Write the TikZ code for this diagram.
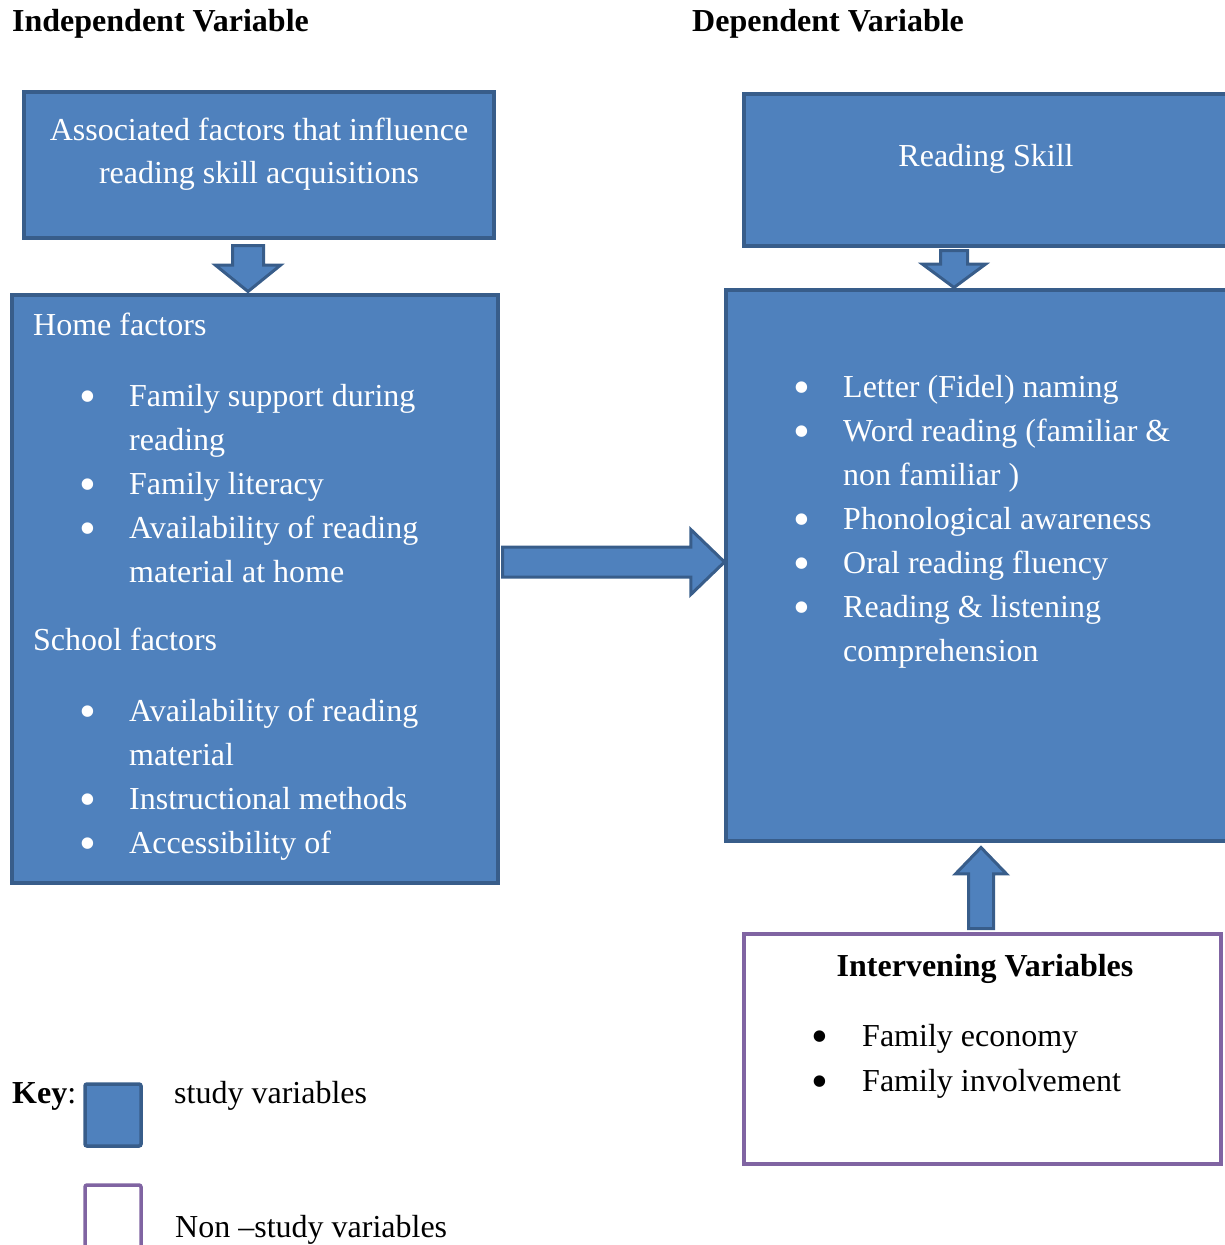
\documentclass[tikz,border=0pt]{standalone}
\usepackage{fontspec}
\setmainfont{Liberation Serif}
\usetikzlibrary{shapes.arrows,positioning}
\definecolor{varblue}{HTML}{4F81BD}
\definecolor{varedge}{HTML}{385D8A}
\definecolor{nonstudy}{HTML}{8064A2}
\newcommand{\bigtext}{\fontsize{32}{44}\selectfont}
\newcommand{\bpt}{\hspace*{-4pt}\smash{\raisebox{-6.5pt}{\scalebox{1.5}{\textbullet}}}}
\tikzset{
  studybox/.style={draw=varedge, fill=varblue, line width=3.5pt, inner sep=0pt},
  otherbox/.style={draw=nonstudy, fill=white, line width=3.5pt, inner sep=0pt},
  fatarrow/.style={single arrow, draw=varedge, fill=varblue, line width=3pt, inner xsep=0pt, minimum width=1pt, anchor=tail},
  txt/.style={inner sep=0pt, anchor=base west, font=\bigtext},
  boxtxt/.style={txt, text=white}
}

\begin{document}
\begin{tikzpicture}[x=1pt, y=-1pt]
  \useasboundingbox (0,0) rectangle (1225,1245);
  % headings
  \node[txt] (indep) at (12,31) {\textbf{Independent Variable}};
  \node[txt] (dep) at (692,31) {\textbf{Dependent Variable}};
  % boxes
  \node[studybox, minimum width=470pt, minimum height=146pt] (assoc) at (259,165) {};
  \node[studybox, minimum width=486pt, minimum height=588pt] (factors) at (255,589) {};
  \node[studybox, minimum width=484pt, minimum height=152pt] (skill) at (986,170) {};
  \node[studybox, minimum width=514pt, minimum height=551pt] (measures) at (983,565.5) {};
  \node[otherbox, minimum width=477pt, minimum height=230pt] (interv) at (982.5,1049) {};
  % block arrows
  \node[fatarrow, rotate=-90, inner ysep=14pt, minimum height=46pt,
        single arrow head extend=17pt, single arrow tip angle=102] (arrowA) at (248,244) {};
  \node[fatarrow, rotate=-90, inner ysep=12pt, minimum height=37pt,
        single arrow head extend=18pt, single arrow tip angle=107] (arrowB) at (954,249) {};
  \node[fatarrow, inner ysep=13.5pt, minimum height=222pt,
        single arrow head extend=17.5pt, single arrow tip angle=88] (arrowC) at (501,562) {};
  \node[fatarrow, rotate=90, inner ysep=11pt, minimum height=81pt,
        single arrow head extend=13pt, single arrow tip angle=88] (arrowD) at (981,930) {};
  % texts in boxes
  \node[boxtxt, anchor=base] (assoctxt) at (259,140)
    {\begin{tabular}[t]{@{}c@{}}Associated factors that influence\\[-1pt]reading skill acquisitions\end{tabular}};
  \node[boxtxt, anchor=base] (skilltxt) at (986,166) {Reading Skill};
  \node[boxtxt] (factorstxt) at (33,335)
    {\begin{tabular}[t]{@{}p{50pt}@{}p{46pt}@{}l@{}}
      \multicolumn{3}{@{}l@{}}{Home factors}\\[27pt]
      & \bpt & Family support during\\
      & & reading\\
      & \bpt & Family literacy\\
      & \bpt & Availability of reading\\
      & & material at home\\[24pt]
      \multicolumn{3}{@{}l@{}}{School factors}\\[27pt]
      & \bpt & Availability of reading\\
      & & material\\
      & \bpt & Instructional methods\\
      & \bpt & Accessibility of
    \end{tabular}};
  \node[boxtxt] (measurestxt) at (797,397)
    {\begin{tabular}[t]{@{}p{46pt}@{}l@{}}
      \bpt & Letter (Fidel) naming\\
      \bpt & Word reading (familiar \&\\
      & non familiar )\\
      \bpt & Phonological awareness\\
      \bpt & Oral reading fluency\\
      \bpt & Reading \& listening\\
      & comprehension
    \end{tabular}};
  \node[txt, anchor=base] (intervhead) at (985,976) {\textbf{Intervening Variables}};
  \node[txt] (intervtxt) at (815,1046)
    {\begin{tabular}[t]{@{}p{47pt}@{}l@{}}
      \bpt & Family economy\\[1pt]
      \bpt & Family involvement
    \end{tabular}};
  % key
  \node[txt] (keytxt) at (12,1103) {\textbf{Key}:};
  \node[studybox, rounded corners=2pt, minimum width=56pt, minimum height=62pt] (keystudy) at (113,1115) {};
  \node[txt] (studytxt) at (174,1103) {study variables};
  \node[otherbox, rounded corners=2pt, minimum width=56pt, minimum height=66pt] (keyother) at (113,1218) {};
  \node[txt] (othertxt) at (175,1237) {Non –study variables};
\end{tikzpicture}
\end{document}
